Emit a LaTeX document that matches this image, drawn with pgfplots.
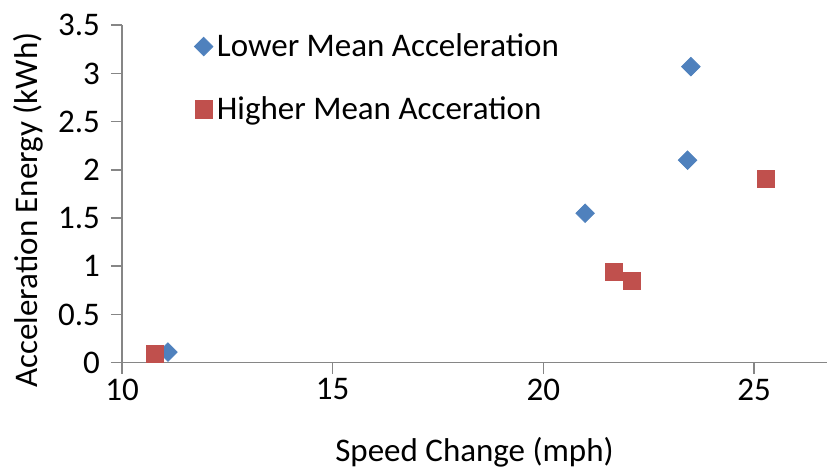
\documentclass[border=0pt]{standalone}
\usepackage{fontspec}
\setmainfont{Carlito}
\usepackage{pgfplots}
\pgfplotsset{compat=1.18}
\definecolor{excelblue}{HTML}{4F81BD}
\definecolor{excelred}{HTML}{C0504D}
\definecolor{axisgray}{HTML}{868686}
\newcommand{\cf}{\fontsize{16.5}{19}\selectfont}
\begin{document}
\begin{tikzpicture}
\begin{axis}[name=ax, scale only axis, width=352.5pt, height=168.75pt,
  xmin=10, xmax=26.73, ymin=0, ymax=3.5,
  axis x line*=bottom, axis y line*=left,
  xtick={10,15,20,25}, ytick={0,0.5,1,1.5,2,2.5,3,3.5},
  tick align=outside, major tick length=5.5pt,
  tick style={axisgray, line width=0.8pt},
  axis line style={axisgray, line width=0.8pt},
  /pgf/number format/assume math mode=true,
  ticklabel style={font=\cf},
  yticklabel style={xshift=-2pt},
  xticklabel style={yshift=1pt},
  xlabel={Speed Change (mph)},
  ylabel={Acceleration Energy (kWh)},
  xlabel style={at={(axis description cs:0.5,0)}, anchor=center, yshift=-45pt, font=\cf},
  ylabel style={at={(axis description cs:0,0.452)}, anchor=center, yshift=47pt, font=\cf},
  legend style={at={(axis description cs:0,1)}, anchor=north west, xshift=33pt, yshift=0pt,
    draw=none, fill=none, row sep=14.5pt, font=\cf},
  legend cell align=left,
  clip=false,
]
\addplot[only marks, mark=square*, mark size=3.27pt, mark options={rotate=45, fill=excelblue, draw=excelblue}]
  coordinates {(11.09,0.11) (20.99,1.55) (23.42,2.10) (23.50,3.07)};
\addlegendentry{Lower Mean Acceleration}
\addplot[only marks, mark=square*, mark size=4.3pt, mark options={fill=excelred, draw=excelred}]
  coordinates {(10.78,0.09) (21.68,0.94) (22.10,0.85) (25.28,1.91)};
\addlegendentry{Higher Mean Acceration}
\end{axis}
\pgfresetboundingbox
\path ([xshift=-61pt,yshift=-52.75pt]ax.south west) rectangle ([yshift=12.6pt]ax.north east);
\end{tikzpicture}
\end{document}
